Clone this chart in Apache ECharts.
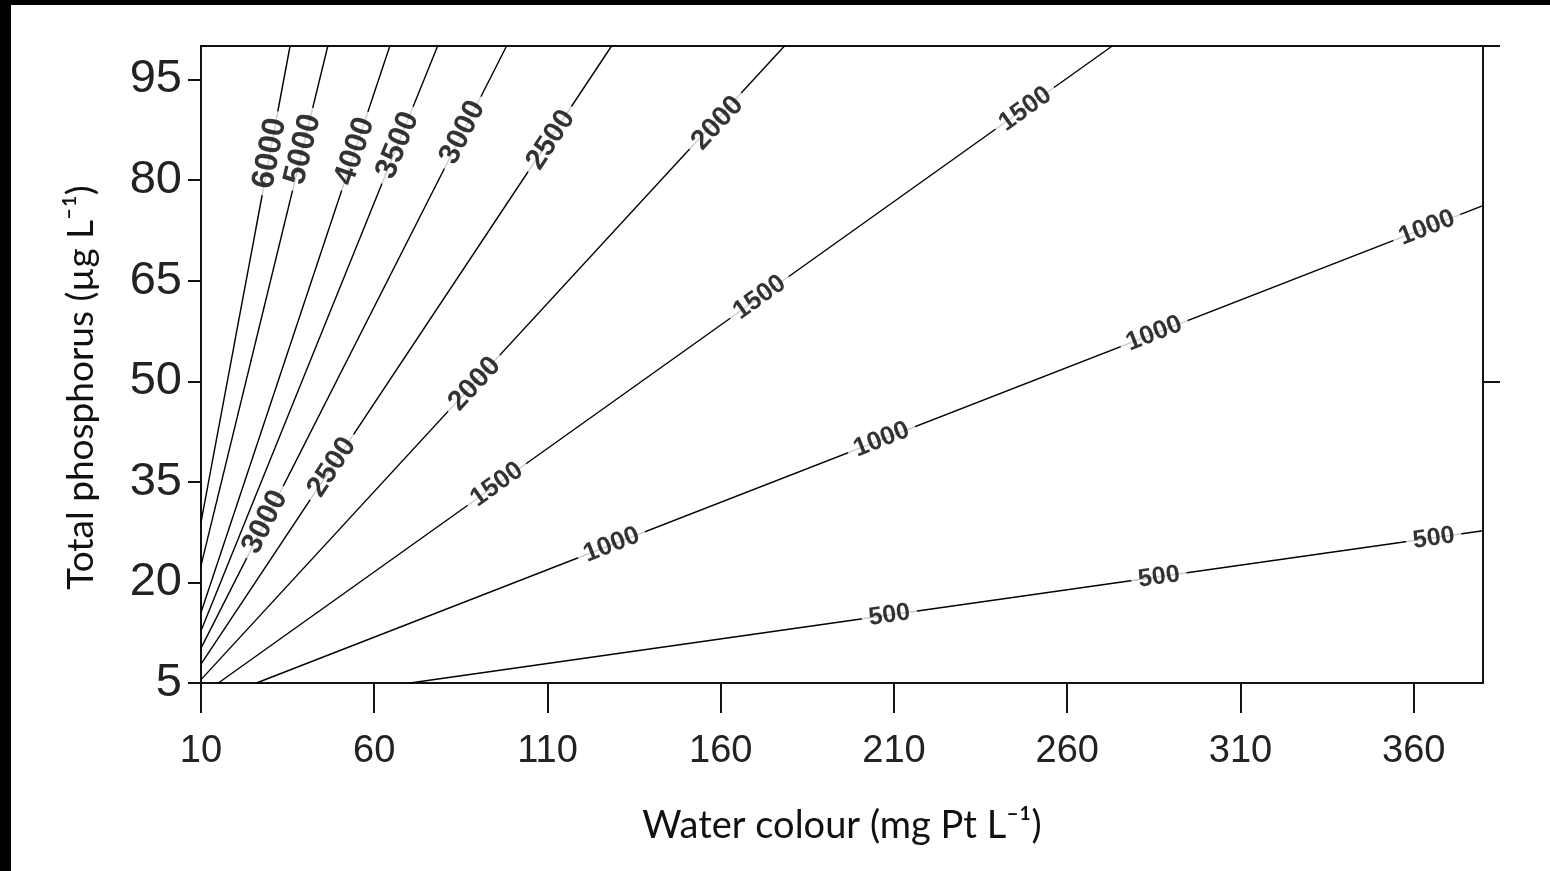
<!DOCTYPE html>
<html>
<head>
<meta charset="utf-8">
<script src="https://cdn.jsdelivr.net/npm/echarts@6/dist/echarts.min.js"></script>
<style>
    html, body { margin: 0; padding: 0; background: #fff; }
    #chart { width: 1550px; height: 871px; }
</style>
</head>
<body>
<div id="chart"></div>
<script>
// axis ticks
var xTicks = [10, 60, 110, 160, 210, 260, 310, 360];
var yTicks = [5, 20, 35, 50, 65, 80, 95];
var rightTicks = [50, 100];

// contour levels and lines, [water colour, total phosphorus]
var levels = [500, 1000, 1500, 2000, 2500, 3000, 3500, 4000, 5000, 6000];
var line500 = [[70.3, 5], [380, 27.7]];
var line1000 = [[26, 5], [380, 76.2]];
var line1500 = [[15, 5], [273, 100]];
var line2000 = [[10, 5.5], [178.4, 100]];
var line2500 = [[10, 7.8], [128.5, 100]];
var line3000 = [[10, 10.2], [98.2, 100]];
var line3500 = [[10, 12.8], [78.3, 100]];
var line4000 = [[10, 15.5], [64.5, 100]];
var line5000 = [[10, 22.5], [46.6, 100]];
var line6000 = [[10, 29], [35.7, 100]];

// where the level labels sit on each line
var labels500 = [[208.7, 15.1], [286.5, 20.8], [365.8, 26.6]];
var labels1000 = [[128.5, 25.6], [206.4, 41.3], [285.1, 57.1], [363.8, 72.9]];
var labels1500 = [[95.4, 34.6], [171.2, 62.5], [247.9, 90.6]];
var labels2000 = [[89, 49.6], [159.1, 88.5]];
var labels2500 = [[47.8, 37.2], [111, 86]];
var labels3000 = [[28.5, 29.0], [85.5, 87.1]];
var labels3500 = [[66.8, 85.2]];
var labels4000 = [[54.4, 84.3]];
var labels5000 = [[39.4, 84.6]];
var labels6000 = [[29.9, 84.0]];

var lines = [line500, line1000, line1500, line2000, line2500, line3000, line3500, line4000, line5000, line6000];
var labelSets = [labels500, labels1000, labels1500, labels2000, labels2500, labels3000, labels3500, labels4000, labels5000, labels6000];

var tickFont = "'Liberation Sans', Arial, sans-serif";
var titleFont = "Lato, 'Noto Sans', sans-serif";
var axisColor = "#111";
// the source figure is stretched vertically, steep labels come out longer
var labelStretch = 2;
var labelBaseSize = 25;

var chart = echarts.init(document.getElementById("chart"));

var option = {
    animation: false,
    backgroundColor: "#fff",
    graphic: [
        { type: "rect", left: 0, top: 0, shape: { width: 11, height: 871 }, style: { fill: "#000" } },
        { type: "rect", left: 0, top: 0, shape: { width: 1550, height: 5 }, style: { fill: "#000" } }
    ],
    grid: { left: 201, top: 46, width: 1282, height: 637, containLabel: false },
    xAxis: [
        {
            type: "value",
            min: 10,
            max: 380,
            position: "bottom",
            name: "Water colour (mg Pt L\u207B\u00B9)",
            nameLocation: "middle",
            nameGap: 124,
            nameTextStyle: { fontFamily: titleFont, fontSize: 38, color: "#111" },
            axisLine: { lineStyle: { color: axisColor, width: 2 } },
            axisTick: { show: true, customValues: xTicks, length: 30, lineStyle: { color: axisColor, width: 2 } },
            axisLabel: { customValues: xTicks, margin: 50, fontFamily: tickFont, fontSize: 38, color: "#222" },
            splitLine: { show: false }
        },
        {
            type: "value",
            min: 10,
            max: 380,
            position: "top",
            axisLine: { lineStyle: { color: axisColor, width: 2 } },
            axisTick: { show: false },
            axisLabel: { show: false },
            splitLine: { show: false }
        }
    ],
    yAxis: [
        {
            type: "value",
            min: 5,
            max: 100,
            position: "left",
            name: "Total phosphorus (\u00B5g L\u207B\u00B9)",
            nameLocation: "middle",
            nameGap: 101,
            nameTextStyle: { fontFamily: titleFont, fontSize: 37, color: "#111", padding: [0, 46, 0, 0] },
            axisLine: { lineStyle: { color: axisColor, width: 2 } },
            axisTick: { show: true, customValues: yTicks, length: 13, lineStyle: { color: axisColor, width: 2 } },
            axisLabel: { customValues: yTicks, margin: 19, fontFamily: tickFont, fontSize: 47, color: "#222" },
            splitLine: { show: false }
        },
        {
            type: "value",
            min: 5,
            max: 100,
            position: "right",
            axisLine: { lineStyle: { color: axisColor, width: 2 } },
            axisTick: { show: true, customValues: rightTicks, length: 17, lineStyle: { color: axisColor, width: 2 } },
            axisLabel: { show: false },
            splitLine: { show: false }
        }
    ],
    series: []
};

var lineSeries = [];
for (let i = 0; i < lines.length; i++) {
    lineSeries.push({
        name: String(levels[i]),
        type: "line",
        data: lines[i],
        showSymbol: false,
        symbol: "none",
        silent: true,
        lineStyle: { color: "#000", width: 1.4 },
        z: 2
    });
}
option.series = lineSeries;
chart.setOption(option);

// labels follow the slope of their line, as seen on screen
function segmentFor(pts, x) {
    for (let k = 0; k < pts.length - 1; k++) {
        if (x >= pts[k][0] && x <= pts[k + 1][0]) {
            return [pts[k], pts[k + 1]];
        }
    }
    return [pts[0], pts[pts.length - 1]];
}

var labelData = [];
for (let i = 0; i < labelSets.length; i++) {
    for (let j = 0; j < labelSets[i].length; j++) {
        var p = labelSets[i][j];
        var seg = segmentFor(lines[i], p[0]);
        var a = chart.convertToPixel({ seriesIndex: 0 }, seg[0]);
        var b = chart.convertToPixel({ seriesIndex: 0 }, seg[1]);
        var rad = Math.atan2(a[1] - b[1], b[0] - a[0]);
        var t0 = Math.atan(Math.tan(rad) / labelStretch);
        var grow = Math.sqrt(Math.pow(Math.cos(t0), 2) + Math.pow(labelStretch * Math.sin(t0), 2));
        var size = Math.round(labelBaseSize * Math.pow(grow, 0.4));
        labelData.push({
            value: [p[0], p[1]],
            label: {
                rotate: rad * 180 / Math.PI,
                fontSize: size,
                lineHeight: Math.round(size * 0.8),
                formatter: String(levels[i])
            }
        });
    }
}

chart.setOption({
    series: lineSeries.concat([{
        type: "scatter",
        symbolSize: 0,
        silent: true,
        z: 5,
        data: labelData,
        label: {
            show: true,
            position: "inside",
            fontFamily: tickFont,
            fontWeight: "bold",
            fontSize: labelBaseSize,
            color: "#000",
            backgroundColor: "#fff",
            padding: [0, 7]
        }
    }])
});
</script>
</body>
</html>
